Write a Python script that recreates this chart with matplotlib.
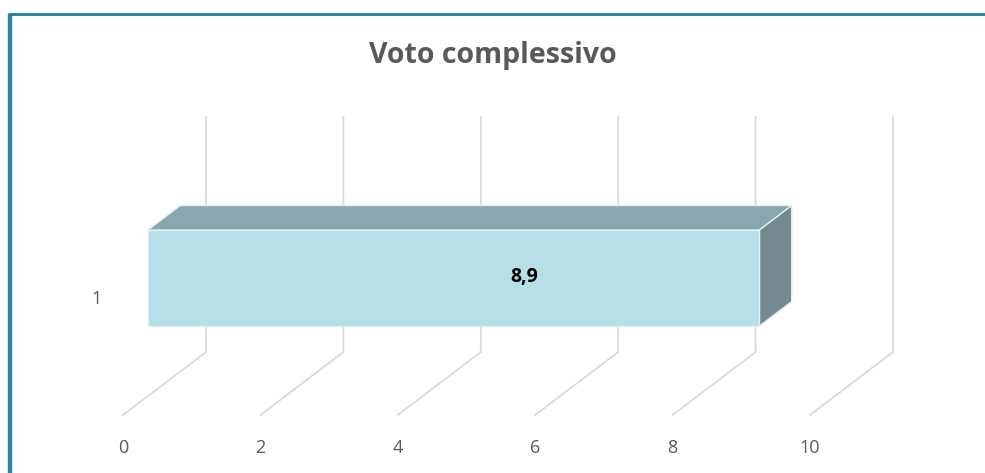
import matplotlib
matplotlib.use('Agg')
from matplotlib import pyplot as plt
from matplotlib.patches import Polygon
import numpy as np

# data
categories = ['1']
values = [8.9]
value_labels = ['8,9']
ticks = [0, 2, 4, 6, 8, 10]
title = 'Voto complessivo'

W, H = 985, 473

# pseudo-3d projection (value, depth 0..1, height px above floor)
X0 = 123.0      # front x of value 0
SX = 68.7       # px per unit
DX, DY = 83.0, 63.0   # depth offset of back wall
FLOOR = 415.0
WALL_H = 235.0


def proj(v, d, h):
    return (X0 + SX * v + DX * d, FLOOR - DY * d - h)


def main():
    plt.rcParams['font.family'] = ['Open Sans', 'DejaVu Sans']
    fig = plt.figure(figsize=(W / 100, H / 100), dpi=100)
    ax = fig.add_axes([0, 0, 1, 1])
    ax.set_xlim(0, W)
    ax.set_ylim(H, 0)
    ax.axis('off')

    # frame
    ax.plot([9.5, 9.5], [14, H], color='#31849b', lw=3.2, solid_capstyle='butt')
    ax.plot([8, W], [14, 14], color='#31849b', lw=2.2, solid_capstyle='butt')

    grid = '#d9d9d9'
    for t in ticks:
        p0 = proj(t, 0, 0)
        p1 = proj(t, 1, 0)
        p2 = proj(t, 1, WALL_H)
        ax.plot([p0[0], p1[0], p2[0]], [p0[1], p1[1], p2[1]], color=grid, lw=1.3, zorder=1)
        ax.text(p0[0], 448, str(t), ha='center', va='center', fontsize=13, color='#595959')

    # bars
    d0, d1 = 0.30, 0.69
    hb, ht = 70, 166
    for i, (cat, v, lab) in enumerate(zip(categories, values, value_labels)):
        front = [proj(0, d0, hb), proj(v, d0, hb), proj(v, d0, ht), proj(0, d0, ht)]
        top = [proj(0, d0, ht), proj(v, d0, ht), proj(v, d1, ht), proj(0, d1, ht)]
        side = [proj(v, d0, hb), proj(v, d1, hb), proj(v, d1, ht), proj(v, d0, ht)]
        ec = '#dff0f5'
        ax.add_patch(Polygon(top, closed=True, fc='#88a8ae', ec=ec, lw=1.0, zorder=3))
        ax.add_patch(Polygon(side, closed=True, fc='#738b8f', ec=ec, lw=1.0, zorder=3))
        ax.add_patch(Polygon(front, closed=True, fc='#b7dfe8', ec=ec, lw=1.0, zorder=3))
        cx = (front[0][0] + front[1][0]) / 2 + 71
        cy = (front[0][1] + front[2][1]) / 2
        ax.text(cx, cy - 1, lab, ha='center', va='center', fontsize=14,
                fontweight='bold', color='black', zorder=4)
        ax.text(97, cy + 21, cat, ha='center', va='center',
                fontsize=13, color='#595959')

    ax.text(493, 56, title, ha='center', va='center', fontsize=20.5,
            fontweight='bold', color='#595959')

    plt.savefig('out.png', dpi=100)


if __name__ == '__main__':
    main()
